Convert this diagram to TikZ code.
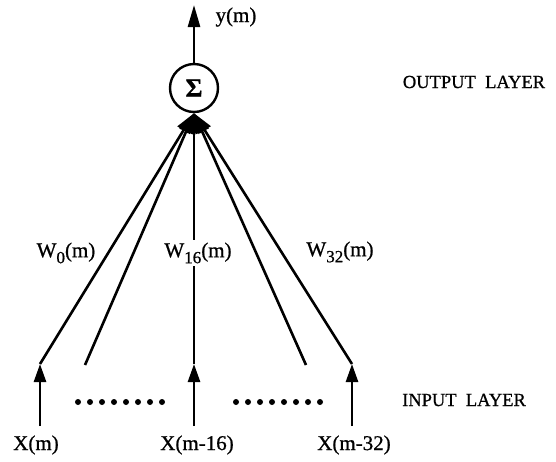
\documentclass[tikz,border=0pt]{standalone}
\usepackage{fontspec}
\setmainfont{Liberation Serif}[FakeBold=0.8]
\usetikzlibrary{arrows.meta}
\begin{document}
\begin{tikzpicture}[x=1pt,y=-1pt,
  conn/.style={line width=2.6pt},
  inarrow/.style={conn,-{Triangle[length=18pt,width=12pt]}},
  sumarrow/.style={conn,-{Triangle[length=20pt,width=14pt]}},
  outarrow/.style={conn,-{Triangle[length=22pt,width=12pt]}},
  lbl/.style={inner sep=1pt, font=\fontsize{21}{23}\selectfont},
  wlbl/.style={inner sep=3pt, fill=white, font=\fontsize{21}{23}\selectfont},
  layer/.style={inner sep=0pt, font=\fontsize{18.5}{20}\selectfont},
  dotc/.style={fill=black, circle, inner sep=0pt, minimum size=6pt}]
\useasboundingbox (0,0) rectangle (556,461);
\newcommand{\sbs}[1]{\raisebox{-6pt}{\fontsize{17}{17}\selectfont #1}}
% summation node
\node[circle, draw, line width=2.4pt, minimum size=48pt, inner sep=0pt,
      font=\fontsize{26}{26}\selectfont\bfseries] (S) at (194,88) {Σ};
% output
\coordinate (ytop) at (194,5);
\draw[outarrow] (S.north) -- (ytop);
\node[lbl] (ylab) at (236,17) {y(m)};
% input coordinates
\coordinate (b1) at (40,426);
\coordinate (b3) at (194,426);
\coordinate (b5) at (352,426);
\coordinate (t1) at (40,364);
\coordinate (t2) at (85,365);
\coordinate (t3) at (194,364);
\coordinate (t4) at (306,365);
\coordinate (t5) at (352,364);
\draw[inarrow] (b1) -- (t1);
\draw[inarrow] (b3) -- (t3);
\draw[inarrow] (b5) -- (t5);
% weighted connections
\foreach \t in {t1,t2,t3,t4,t5}
  \draw[sumarrow] (\t) -- (S.south);
% weight labels
\node[lbl] (w0) at (66,253) {W\sbs{0}(m)};
\node[wlbl] (w16) at (198,253) {W\sbs{16}(m)};
\node[lbl] (w32) at (340,252) {W\sbs{32}(m)};
% dots
\foreach \i in {0,...,7}
  \node[dotc] (da\i) at ({78+\i*12},402) {};
\foreach \i in {0,...,7}
  \node[dotc] (db\i) at ({236+\i*12},402) {};
% input labels
\node[lbl] (x0) at (36,445) {X(m)};
\node[lbl] (x16) at (197,445) {X(m-16)};
\node[lbl] (x32) at (354,445) {X(m-32)};
% layer labels
\node[layer] (outl) at (474,82) {OUTPUT\ \ LAYER};
\node[layer] (inl) at (464,400) {INPUT\ \ LAYER};
\end{tikzpicture}
\end{document}
